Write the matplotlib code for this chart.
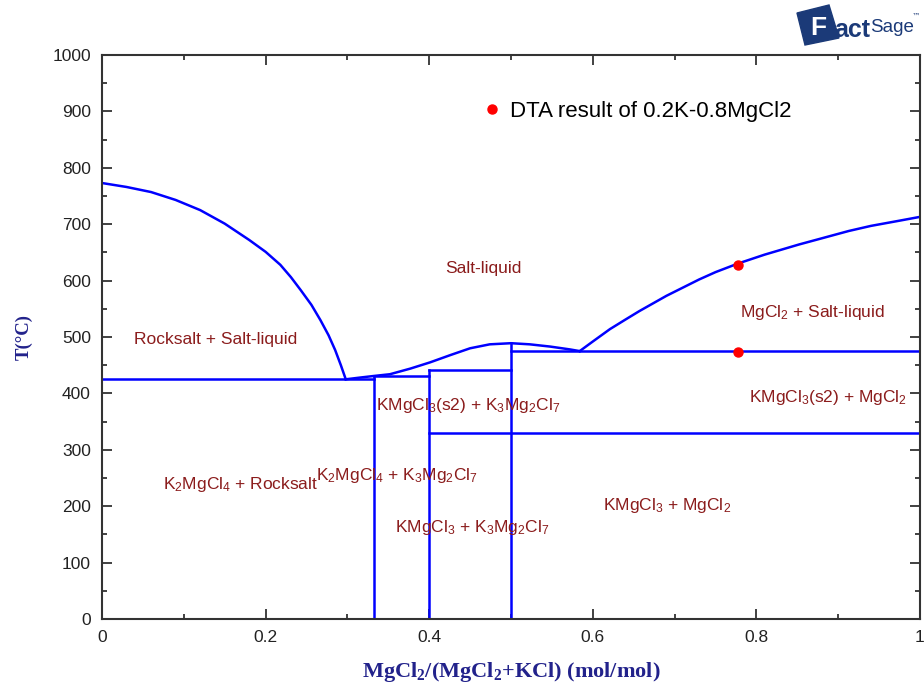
import matplotlib
matplotlib.use("Agg")
import matplotlib.pyplot as plt
from matplotlib.patches import Polygon
from matplotlib.lines import Line2D
from matplotlib.ticker import MultipleLocator

plt.rcParams['font.family'] = ['Liberation Sans', 'DejaVu Sans']
plt.rcParams['mathtext.fontset'] = 'custom'
plt.rcParams['mathtext.rm'] = 'Liberation Sans'
plt.rcParams['mathtext.it'] = 'Liberation Sans:italic'
plt.rcParams['mathtext.bf'] = 'Liberation Serif:bold'

# ---- data ----
# liquidus, Rocksalt side
liq_left_x = [0.0, 0.03, 0.06, 0.09, 0.12, 0.15, 0.18, 0.2, 0.218, 0.231, 0.243,
              0.256, 0.267, 0.277, 0.285, 0.292, 0.298]
liq_left_t = [773, 766, 757, 743, 725, 701, 672, 651, 628, 606, 583,
              557, 530, 503, 477, 450, 425]
# liquidus, K2MgCl4 / K3Mg2Cl7 / KMgCl3 region
liq_mid_x = [0.298, 0.315, 0.333, 0.352, 0.377, 0.401, 0.426, 0.45, 0.474, 0.5,
             0.523, 0.548, 0.572, 0.584]
liq_mid_t = [425, 428, 431, 434, 444, 455, 468, 480, 487, 489,
             487, 483, 478, 475]
# liquidus, MgCl2 side
liq_right_x = [0.584, 0.60, 0.621, 0.64, 0.657, 0.69, 0.730, 0.75, 0.777, 0.81,
               0.852, 0.88, 0.913, 0.94, 0.974, 1.0]
liq_right_t = [475, 492, 514, 531, 546, 573, 602, 615, 630, 646,
               664, 675, 688, 697, 706, 713]

# invariant (horizontal) lines: x_start, x_end, T
hlines_x0 = [0.0, 0.333, 0.4, 0.5, 0.4]
hlines_x1 = [0.333, 0.4, 0.5, 1.0, 1.0]
hlines_t = [425, 431, 441, 475, 330]

# compound (vertical) lines: x, T_top
vlines_x = [0.333, 0.4, 0.5]
vlines_t = [431, 441, 489]

# DTA experimental points
dta_x = [0.778, 0.778]
dta_t = [628, 473]

# region labels
labels = [
    "Salt-liquid",
    "Rocksalt + Salt-liquid",
    "MgCl$_2$ + Salt-liquid",
    "KMgCl$_3$(s2) + MgCl$_2$",
    "KMgCl$_3$(s2) + K$_3$Mg$_2$Cl$_7$",
    "K$_2$MgCl$_4$ + Rocksalt",
    "K$_2$MgCl$_4$ + K$_3$Mg$_2$Cl$_7$",
    "KMgCl$_3$ + MgCl$_2$",
    "KMgCl$_3$ + K$_3$Mg$_2$Cl$_7$",
]
label_x = [0.466, 0.139, 0.868, 0.887, 0.448, 0.170, 0.361, 0.691, 0.452]
label_t = [622, 495, 544, 392, 378, 238, 255, 202, 163]

xticks = [0, 0.2, 0.4, 0.6, 0.8, 1.0]
xticklabels = ["0", "0.2", "0.4", "0.6", "0.8", "1"]
yticks = list(range(0, 1001, 100))

# ---- figure ----
W, H = 924, 691
fig = plt.figure(figsize=(W / 100, H / 100), dpi=100)
ax = fig.add_axes([102 / W, (H - 619) / H, 818 / W, 564 / H])

lc = '#0000FF'
lw = 1.8
ax.plot(liq_left_x, liq_left_t, color=lc, lw=lw, solid_joinstyle='round')
ax.plot(liq_mid_x, liq_mid_t, color=lc, lw=lw, solid_joinstyle='round')
ax.plot(liq_right_x, liq_right_t, color=lc, lw=lw, solid_joinstyle='round')
for x0, x1, t in zip(hlines_x0, hlines_x1, hlines_t):
    ax.plot([x0, x1], [t, t], color=lc, lw=lw)
for x, t in zip(vlines_x, vlines_t):
    ax.plot([x, x], [0, t], color=lc, lw=lw)

ax.plot(dta_x, dta_t, 'o', color='#FF0000', ms=6.5, mec='#FF0000', zorder=5)

lab_col = '#8B1C1C'
for s, x, t in zip(labels, label_x, label_t):
    ax.text(x, t, s, color=lab_col, fontsize=12.5, ha='center', va='center')

ax.set_xlim(0, 1)
ax.set_ylim(0, 1000)
ax.set_xticks(xticks)
ax.set_xticklabels(xticklabels)
ax.set_yticks(yticks)
ax.xaxis.set_minor_locator(MultipleLocator(0.1))
ax.yaxis.set_minor_locator(MultipleLocator(50))
ax.tick_params(which='both', direction='in', top=True, right=True,
               color='#333333', width=1.3)
ax.tick_params(which='major', length=7, labelsize=12.5, labelcolor='#222222', pad=8)
ax.tick_params(which='minor', length=3.5)
for sp in ax.spines.values():
    sp.set_color('#333333')
    sp.set_linewidth(1.5)

navy = '#22228B'
ax.set_xlabel(r"MgCl$_\mathbf{2}$/(MgCl$_\mathbf{2}$+KCl) (mol/mol)",
              family='Liberation Serif', fontweight='bold', fontsize=16,
              color=navy, labelpad=11)
ax.set_ylabel("T(°C)", family='Liberation Serif', fontweight='bold',
              fontsize=13.5, color=navy, labelpad=14)

handle = Line2D([], [], marker='o', ls='none', color='#FF0000', ms=6.5)
ax.legend([handle], ["DTA result of 0.2K-0.8MgCl2"], loc='center left',
          bbox_to_anchor=(0.466, 0.9), frameon=False, fontsize=16,
          handlelength=0.8, handletextpad=0.4, borderpad=0, borderaxespad=0)

# ---- FactSage logo ----
logo = '#1B3A78'
def fx(px):
    return px / W
def fy(py):
    return 1 - py / H
poly = Polygon([(fx(797), fy(13)), (fx(829), fy(5)), (fx(839), fy(38)), (fx(805), fy(45))],
               closed=True, transform=fig.transFigure, color=logo, zorder=1)
fig.patches.append(poly)
fig.text(fx(818), fy(28), "F", color='white', fontsize=19, fontweight='bold',
         ha='center', va='center', family='Liberation Sans')
fig.text(fx(834), fy(30), "act", color=logo, fontsize=18, fontweight='bold',
         ha='left', va='center', family='Liberation Sans')
fig.text(fx(870), fy(28), "Sage", color=logo, fontsize=13.5,
         ha='left', va='center', family='Liberation Sans')
fig.text(fx(912), fy(16), "™", color=logo, fontsize=6,
         ha='left', va='center', family='DejaVu Sans')

fig.savefig("out.png", dpi=100)
